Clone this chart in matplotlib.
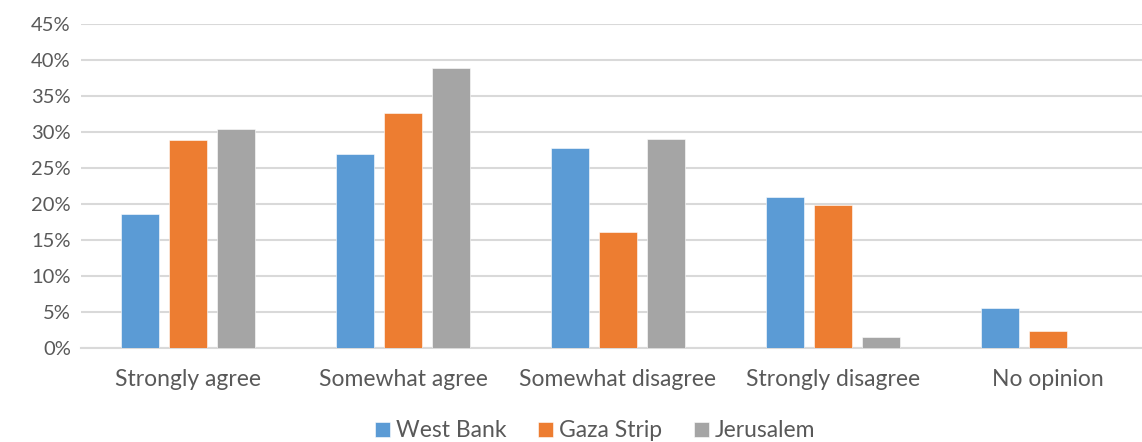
import matplotlib
matplotlib.use("Agg")
import matplotlib.pyplot as plt
import numpy as np

categories = ["Strongly agree", "Somewhat agree", "Somewhat disagree", "Strongly disagree", "No opinion"]
west_bank = [18.6, 26.9, 27.8, 21.0, 5.5]
gaza_strip = [28.9, 32.7, 16.1, 19.8, 2.3]
jerusalem = [30.5, 38.9, 29.0, 1.5, 0.0]
series_names = ["West Bank", "Gaza Strip", "Jerusalem"]
colors = ["#5B9BD5", "#ED7D31", "#A5A5A5"]
yticks = list(range(0, 50, 5))

plt.rcParams['font.family'] = ['Lato', 'DejaVu Sans']
text_color = "#595959"

fig = plt.figure(figsize=(11.42, 4.42), dpi=100)
ax = fig.add_axes([0.0705, 0.2134, 0.9413, 0.7316])

x = np.arange(len(categories))
w = 0.177
step = 0.223
for i, (vals, name, c) in enumerate(zip([west_bank, gaza_strip, jerusalem], series_names, colors)):
    ax.bar(x + (i - 1) * step, vals, width=w, color=c, label=name, zorder=3,
           edgecolor="white", linewidth=0.4)

ax.set_xlim(-0.5, len(categories) - 0.5)
ax.set_ylim(0, 45)
ax.set_yticks(yticks)
ax.set_yticklabels([f"{t}%" for t in yticks])
ax.set_xticks(x)
ax.set_xticklabels(categories)
ax.yaxis.grid(True, color="#D9D9D9", linewidth=1.5, zorder=0)
ax.set_axisbelow(True)
for s in ["top", "right", "left"]:
    ax.spines[s].set_visible(False)
ax.spines["bottom"].set_color("#D9D9D9")
ax.spines["bottom"].set_linewidth(1.5)
ax.tick_params(axis="y", length=0, labelsize=14.5, colors=text_color, pad=7)
ax.tick_params(axis="x", length=0, labelsize=16.5, colors=text_color, pad=15)

leg = fig.legend(loc="center", bbox_to_anchor=(0.521, 0.025), ncol=3, frameon=False,
                 fontsize=16.5, handlelength=0.65, handleheight=0.65, handletextpad=0.25,
                 columnspacing=1.4)
for t in leg.get_texts():
    t.set_color(text_color)

fig.savefig("out.png", dpi=100)
